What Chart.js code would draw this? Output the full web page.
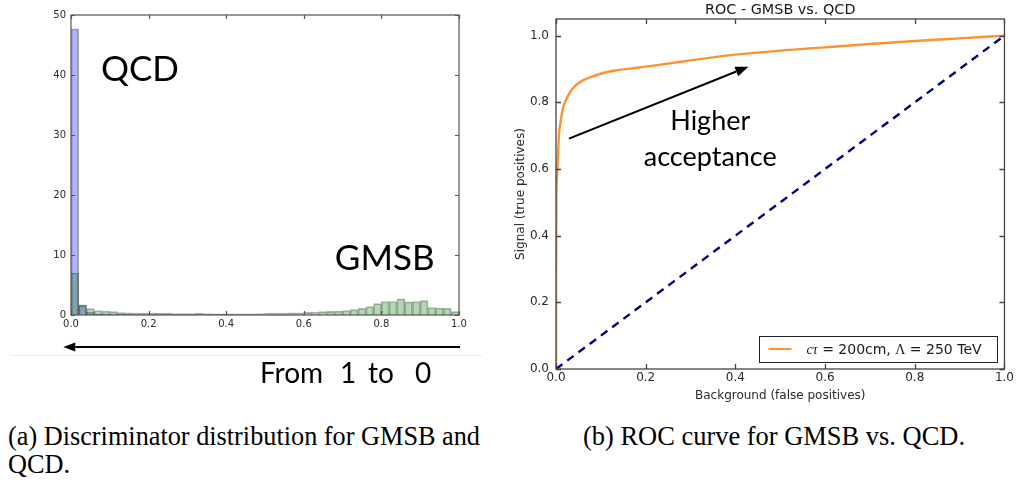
<!DOCTYPE html>
<html>
<head>
<meta charset="utf-8">
<script src="https://cdn.jsdelivr.net/npm/chart.js@4.4.1/dist/chart.umd.min.js"></script>
<style>
  html, body { margin: 0; padding: 0; background: #fff; width: 1016px; height: 482px; overflow: hidden; }
  #hist { position: absolute; left: 0; top: 0; }
  #roc { position: absolute; left: 500px; top: 0; }
  .cap { position: absolute; font-family: "Liberation Serif", "Times New Roman", serif; font-size: 27px;
         line-height: 1; color: #000; white-space: nowrap; transform-origin: 0 0; }
</style>
</head>
<body>
<canvas id="hist" width="490" height="400"></canvas>
<canvas id="roc" width="516" height="410"></canvas>
<div class="cap" id="capA1">(a) Discriminator distribution for GMSB and</div>
<div class="cap" id="capA2">QCD.</div>
<div class="cap" id="capB">(b) ROC curve for GMSB vs. QCD.</div>
<script>
// ---- histogram of the discriminator output (50 bins on [0, 1]) ----
const BIN_WIDTH = 0.02;
const qcdCounts = [
  47.7, 1.6, 0.5, 0.15, 0.1, 0.08, 0.06, 0.05, 0.04, 0.03,
  0.03, 0.02, 0.02, 0.02, 0.02, 0.01, 0.01, 0.01, 0.01, 0.01,
  0, 0, 0, 0, 0, 0, 0, 0, 0, 0,
  0, 0, 0, 0, 0, 0, 0, 0, 0, 0,
  0, 0, 0, 0, 0, 0, 0, 0, 0, 0
];
const gmsbCounts = [
  7.0, 1.7, 1.05, 0.75, 0.65, 0.55, 0.4, 0.35, 0.3, 0.3,
  0.3, 0.3, 0.3, 0.25, 0.25, 0.25, 0.3, 0.25, 0.2, 0.2,
  0.2, 0.2, 0.2, 0.2, 0.25, 0.3, 0.3, 0.3, 0.35, 0.35,
  0.45, 0.5, 0.55, 0.6, 0.65, 0.75, 0.9, 1.1, 1.4, 1.9,
  2.25, 2.25, 2.7, 2.2, 2.25, 2.4, 1.25, 1.15, 1.1, 0.55
];
const binCenters = gmsbCounts.map((_, i) => (i + 0.5) * BIN_WIDTH);
const histXTicks = [0, 0.2, 0.4, 0.6, 0.8, 1.0];
const histYTicks = [0, 10, 20, 30, 40, 50];

// ---- ROC curve ----
const fpr = [0, 0.0003, 0.001, 0.002, 0.003, 0.005, 0.007, 0.01, 0.013, 0.016,
             0.02, 0.025, 0.03, 0.035, 0.045, 0.06, 0.08, 0.105, 0.14, 0.17,
             0.2, 0.25, 0.3, 0.35, 0.4, 0.5, 0.6, 0.7, 0.8, 0.9, 1.0];
const tpr = [0, 0.3, 0.52, 0.57, 0.6, 0.66, 0.708, 0.74, 0.765, 0.785,
             0.8, 0.815, 0.827, 0.838, 0.852, 0.866, 0.877, 0.888, 0.897, 0.902,
             0.907, 0.916, 0.926, 0.935, 0.943, 0.955, 0.965, 0.975, 0.984, 0.992, 1.0];
const chanceX = [0, 1];
const chanceY = [0, 1];
const rocTicks = [0, 0.2, 0.4, 0.6, 0.8, 1.0];

const SANS = "'DejaVu Sans', sans-serif";
const NOTE_FONT = "Lato, 'Open Sans', sans-serif";

// boxed frame with inward tick marks on all four sides
const framePlugin = {
  id: 'frame',
  afterDatasetsDraw(chart, args, opts) {
    const { ctx, chartArea: a, scales: { x, y } } = chart;
    const L = opts.tick;
    ctx.save();
    ctx.strokeStyle = opts.color;
    ctx.lineWidth = opts.width;
    ctx.beginPath();
    x.ticks.forEach(t => {
      const px = Math.round(x.getPixelForValue(t.value)) + 0.5;
      ctx.moveTo(px, a.bottom); ctx.lineTo(px, a.bottom - L);
      ctx.moveTo(px, a.top); ctx.lineTo(px, a.top + L);
    });
    y.ticks.forEach(t => {
      const py = Math.round(y.getPixelForValue(t.value)) + 0.5;
      ctx.moveTo(a.left, py); ctx.lineTo(a.left + L, py);
      ctx.moveTo(a.right, py); ctx.lineTo(a.right - L, py);
    });
    ctx.stroke();
    ctx.strokeRect(a.left, a.top, a.right - a.left, a.bottom - a.top);
    ctx.restore();
  }
};

function arrow(ctx, x0, y0, x1, y1, headLen, headHalf) {
  const ang = Math.atan2(y1 - y0, x1 - x0);
  const bx = x1 - headLen * Math.cos(ang), by = y1 - headLen * Math.sin(ang);
  ctx.beginPath();
  ctx.moveTo(x0, y0); ctx.lineTo(bx, by);
  ctx.stroke();
  ctx.beginPath();
  ctx.moveTo(x1, y1);
  ctx.lineTo(bx + headHalf * Math.sin(ang), by - headHalf * Math.cos(ang));
  ctx.lineTo(bx - headHalf * Math.sin(ang), by + headHalf * Math.cos(ang));
  ctx.closePath();
  ctx.fill();
}

// text labels and direction arrow for the histogram panel
const histNotes = {
  id: 'histNotes',
  afterDraw(chart) {
    const { ctx, chartArea: a, scales: { x, y } } = chart;
    ctx.save();
    ctx.fillStyle = '#000';
    ctx.strokeStyle = '#000';
    ctx.textBaseline = 'alphabetic';
    ctx.textAlign = 'left';
    ctx.font = '35px ' + NOTE_FONT;
    ctx.fillText('QCD', x.getPixelForValue(0.077), y.getPixelForValue(39));
    ctx.fillText('GMSB', x.getPixelForValue(0.68), y.getPixelForValue(7.5));

    // faint separator under the plot
    ctx.strokeStyle = '#ebebeb';
    ctx.lineWidth = 1;
    ctx.beginPath();
    ctx.moveTo(10, a.bottom + 40.5); ctx.lineTo(482, a.bottom + 40.5);
    ctx.stroke();

    ctx.strokeStyle = '#000';
    ctx.lineWidth = 2;
    arrow(ctx, x.getPixelForValue(1.0) + 1, a.bottom + 32, x.getPixelForValue(-0.02), a.bottom + 32, 12, 4.5);

    // caption words, set with generous word gaps
    ctx.font = '28px ' + NOTE_FONT;
    const x0 = x.getPixelForValue(0.487), base = a.bottom + 68;
    [['From', 0], ['1', 80], ['to', 108], ['0', 155]].forEach(([w, dx]) => ctx.fillText(w, x0 + dx, base));
    ctx.restore();
  }
};

// title, annotation and legend for the ROC panel
const rocNotes = {
  id: 'rocNotes',
  afterDraw(chart) {
    const { ctx, chartArea: a, scales: { x, y } } = chart;
    ctx.save();
    ctx.fillStyle = '#1a1a1a';
    ctx.textAlign = 'center';
    ctx.textBaseline = 'middle';
    ctx.font = '14.4px ' + SANS;
    ctx.fillText('ROC - GMSB vs. QCD', (a.left + a.right) / 2, 10);

    ctx.fillStyle = '#000';
    ctx.strokeStyle = '#000';
    ctx.lineWidth = 2;
    arrow(ctx, x.getPixelForValue(0.029), y.getPixelForValue(0.691),
          x.getPixelForValue(0.429), y.getPixelForValue(0.907), 13, 5);

    ctx.textBaseline = 'alphabetic';
    ctx.font = '27px ' + NOTE_FONT;
    ctx.fillText('Higher', x.getPixelForValue(0.344), y.getPixelForValue(0.718));
    ctx.fillText('acceptance', x.getPixelForValue(0.344), y.getPixelForValue(0.608));

    // legend box (lower right, inside the axes)
    const bw = 238, bh = 26;
    const bx = a.right - 7 - bw, by = a.bottom - 7 - bh;
    ctx.fillStyle = '#fff';
    ctx.fillRect(bx, by, bw, bh);
    ctx.strokeStyle = '#222';
    ctx.lineWidth = 1;
    ctx.strokeRect(Math.round(bx) + 0.5, Math.round(by) + 0.5, bw, bh);
    const ly = by + bh / 2;
    ctx.strokeStyle = '#fb9330';
    ctx.lineWidth = 2;
    ctx.beginPath(); ctx.moveTo(bx + 9, ly); ctx.lineTo(bx + 32, ly); ctx.stroke();

    const parts = [
      ['c\u03C4', "italic 14px 'Liberation Serif', serif"],
      [' = 200cm, ', '14px ' + SANS],
      ['\u039B', "14px 'Liberation Serif', serif"],
      [' = 250 TeV', '14px ' + SANS]
    ];
    ctx.fillStyle = '#1a1a1a';
    ctx.textAlign = 'left';
    ctx.textBaseline = 'middle';
    let tx = bx + 47;
    parts.forEach(([s, f]) => {
      ctx.font = f;
      ctx.fillText(s, tx, ly + 1);
      tx += ctx.measureText(s).width;
    });
    ctx.restore();
  }
};

const histScaleCommon = {
  grid: { display: false, drawTicks: false },
  border: { display: false }
};

new Chart(document.getElementById('hist'), {
  type: 'bar',
  data: {
    datasets: [
      {
        label: 'GMSB',
        data: binCenters.map((c, i) => ({ x: c, y: gmsbCounts[i] })),
        backgroundColor: 'rgba(0,128,0,0.3)',
        borderColor: 'rgba(0,0,0,0.3)',
        borderWidth: 1,
        grouped: false,
        barPercentage: 1,
        categoryPercentage: 1,
        order: 1
      },
      {
        label: 'QCD',
        data: binCenters.map((c, i) => ({ x: c, y: qcdCounts[i] })),
        backgroundColor: 'rgba(0,0,255,0.3)',
        borderColor: 'rgba(0,0,0,0.3)',
        borderWidth: 1,
        grouped: false,
        barPercentage: 1,
        categoryPercentage: 1,
        order: 2
      }
    ]
  },
  options: {
    responsive: false,
    animation: false,
    events: [],
    layout: { padding: { left: 0, right: 31, top: 15, bottom: 55 } },
    plugins: { legend: { display: false }, tooltip: { enabled: false }, frame: { tick: 4, color: '#555', width: 1.2 } },
    scales: {
      x: {
        ...histScaleCommon,
        type: 'linear', min: 0, max: 1, offset: false,
        afterBuildTicks: s => { s.ticks = histXTicks.map(v => ({ value: v })); },
        afterFit: s => { s.height = 30; },
        ticks: { font: { family: SANS, size: 10 }, color: '#2a2a2a', padding: 3, maxRotation: 0, autoSkip: false,
                 callback: v => v.toFixed(1) }
      },
      y: {
        ...histScaleCommon,
        min: 0, max: 50,
        afterBuildTicks: s => { s.ticks = histYTicks.map(v => ({ value: v })); },
        afterFit: s => { s.width = 71; },
        ticks: { font: { family: SANS, size: 10 }, color: '#2a2a2a', padding: 5, callback: v => String(v) }
      }
    }
  },
  plugins: [framePlugin, histNotes]
});

new Chart(document.getElementById('roc'), {
  type: 'scatter',
  data: {
    datasets: [
      {
        label: 'chance',
        data: chanceX.map((v, i) => ({ x: v, y: chanceY[i] })),
        showLine: true,
        borderColor: '#000080',
        borderWidth: 2.4,
        borderDash: [8, 6],
        pointRadius: 0,
        order: 0
      },
      {
        label: 'c\u03C4 = 200cm, \u039B = 250 TeV',
        data: fpr.map((v, i) => ({ x: v, y: tpr[i] })),
        showLine: true,
        borderColor: '#fb9330',
        borderWidth: 2.4,
        pointRadius: 0,
        cubicInterpolationMode: 'monotone',
        order: 1
      }
    ]
  },
  options: {
    responsive: false,
    animation: false,
    events: [],
    layout: { padding: { left: 0, right: 10, top: 19, bottom: 0 } },
    plugins: { legend: { display: false }, tooltip: { enabled: false }, frame: { tick: 5, color: '#444', width: 1.3 } },
    scales: {
      x: {
        type: 'linear', min: 0, max: 1,
        grid: { display: false, drawTicks: false }, border: { display: false },
        afterBuildTicks: s => { s.ticks = rocTicks.map(v => ({ value: v })); },
        afterFit: s => { s.height = 41; },
        ticks: { font: { family: SANS, size: 12 }, color: '#2a2a2a', padding: 2, maxRotation: 0, autoSkip: false,
                 callback: v => v.toFixed(1) },
        title: { display: true, text: 'Background (false positives)', font: { family: SANS, size: 12 },
                 color: '#2a2a2a', padding: { top: 0, bottom: 7 } }
      },
      y: {
        type: 'linear', min: 0, max: 1.05,
        grid: { display: false, drawTicks: false }, border: { display: false },
        afterBuildTicks: s => { s.ticks = rocTicks.map(v => ({ value: v })); },
        afterFit: s => { s.width = 56; },
        ticks: { font: { family: SANS, size: 12 }, color: '#2a2a2a', padding: 7, callback: v => v.toFixed(1) },
        title: { display: true, text: 'Signal (true positives)', font: { family: SANS, size: 12 },
                 color: '#2a2a2a', padding: { top: 14, bottom: 0 } }
      }
    }
  },
  plugins: [framePlugin, rocNotes]
});

// sub-figure captions, squeezed to their column widths
function placeCaption(el, left, top, width, sx) {
  el.style.left = left + 'px';
  el.style.top = top + 'px';
  const s = sx || width / el.getBoundingClientRect().width;
  el.style.transform = 'scaleX(' + s + ')';
  return s;
}
const sA = placeCaption(document.getElementById('capA1'), 8, 423, 472);
placeCaption(document.getElementById('capA2'), 8, 451, 0, sA);
placeCaption(document.getElementById('capB'), 583, 423, 382);
</script>
</body>
</html>
